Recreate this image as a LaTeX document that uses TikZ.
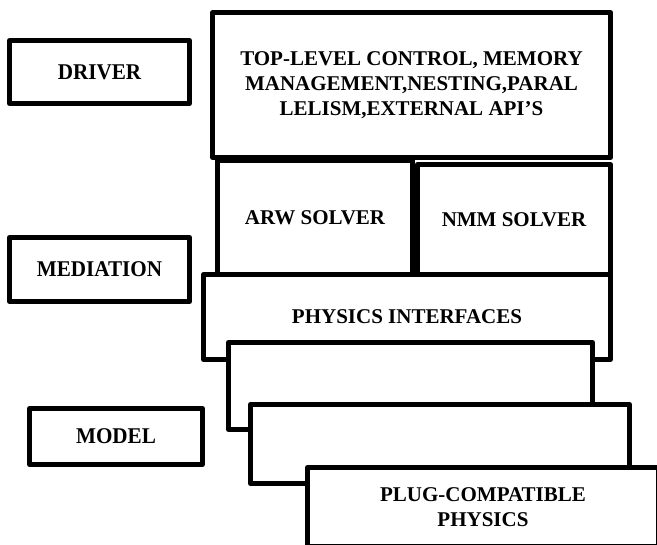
\documentclass[tikz,border=0pt]{standalone}
\usepackage{fontspec}
\setmainfont{Liberation Serif}
\tikzset{
  layer/.style={draw,fill=white,line width=5pt,line join=round,align=center,
    inner sep=0pt,font=\fontsize{21}{25}\selectfont\bfseries},
  tier/.style={layer,font=\fontsize{22.5}{27}\selectfont\bfseries\addfontfeature{FakeStretch=0.94}}
}
\begin{document}
\begin{tikzpicture}[x=1pt,y=-1pt]
  \useasboundingbox (0,0) rectangle (657,545);
  \clip (0,0) rectangle (657,545);
  % tier labels on the left
  \node[tier,minimum width=180pt,minimum height=63pt] (driver) at (99.5,72) {DRIVER};
  \node[tier,minimum width=180pt,minimum height=64pt] (mediation) at (99.5,269.5) {MEDIATION};
  \node[tier,minimum width=173pt,minimum height=56pt] (model) at (116,436.5) {MODEL};
  % software layers, lower ones drawn on top
  \node[layer,minimum width=398pt,minimum height=145pt] (control) at (411.5,85)
    {TOP-LEVEL CONTROL, MEMORY\\MANAGEMENT,NESTING,PARAL\\LELISM,EXTERNAL API’S};
  \node[layer,minimum width=195pt,minimum height=114pt] (arw) at (315,217.5) {ARW SOLVER};
  \node[layer,minimum width=193pt,minimum height=110pt] (nmm) at (514,219.5) {\raisebox{-4pt}{NMM SOLVER}};
  \node[layer,minimum width=407pt,minimum height=85pt] (interfaces) at (407,317) {PHYSICS INTERFACES};
  \node[layer,minimum width=364pt,minimum height=87pt] (physA) at (410.5,386) {};
  \node[layer,minimum width=379pt,minimum height=79pt] (physB) at (440,444) {};
  \node[layer,minimum width=351pt,minimum height=79pt] (plugin) at (483,507)
    {PLUG-COMPATIBLE\\PHYSICS};
\end{tikzpicture}
\end{document}
